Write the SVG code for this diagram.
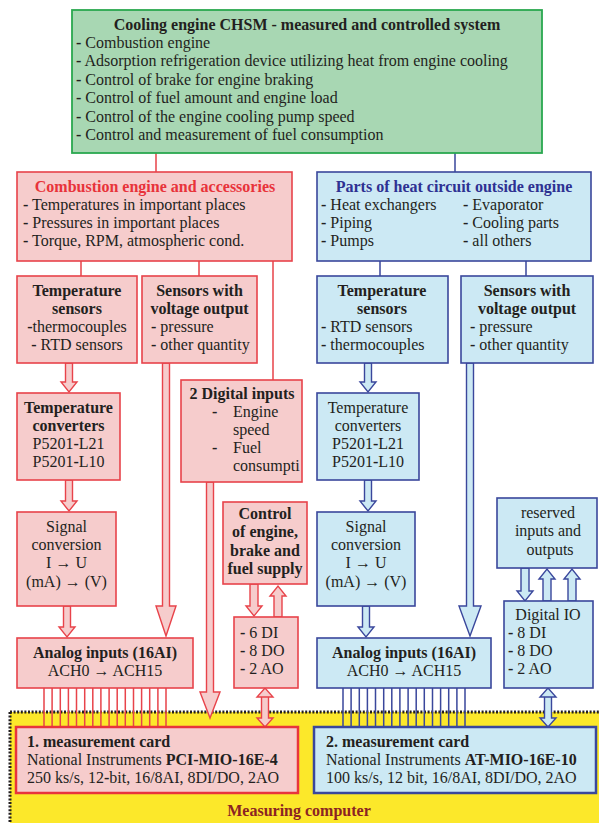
<svg xmlns="http://www.w3.org/2000/svg" width="599" height="823" viewBox="0 0 599 823">
<style>
text{font-family:"Liberation Serif","Times New Roman",serif;font-size:16px;fill:#231f20}
.b{font-weight:bold}
.m{text-anchor:middle}
.pk{fill:#f6cccc;stroke:#e8434a;stroke-width:1.6}
.bl{fill:#cce9f4;stroke:#3a479c;stroke-width:1.6}
.gr{fill:#a8d7b3;stroke:#2aa84f;stroke-width:1.8}
.rl{stroke:#e8434a;stroke-width:1.5;fill:none}
.bll{stroke:#3a479c;stroke-width:1.5;fill:none}
.ra{fill:#f6cccc;stroke:#e8434a;stroke-width:1.4}
.ba{fill:#cce9f4;stroke:#3a479c;stroke-width:1.4}
</style>
<rect x="0" y="0" width="599" height="823" fill="#ffffff"/>
<g id="computer">
<rect x="10" y="712" width="589" height="111" fill="#fce82a"/>
<path d="M10,712 H599 M10,712 V823" stroke="#231f20" stroke-width="3" stroke-dasharray="2 1.6" fill="none"/>
<text x="299" y="816" class="b m" style="fill:#8b2323">Measuring computer</text>
</g>
<g id="connectors">
<path class="rl" d="M156,153 V172 M81,261 V276 M199,261 V276 M273,261 V380"/>
<path class="bll" d="M455,153 V172 M380,261 V276 M526,261 V276"/>
<path class="rl" d="M44,688V727M52.1,688V727M60.3,688V727M68.4,688V727M76.5,688V727M84.7,688V727M92.8,688V727M100.9,688V727M109.1,688V727M117.2,688V727M125.3,688V727M133.5,688V727M141.6,688V727M149.7,688V727M157.9,688V727M166,688V727"/>
<path class="bll" d="M343,688V727M351.1,688V727M359.3,688V727M367.4,688V727M375.5,688V727M383.7,688V727M391.8,688V727M399.9,688V727M408.1,688V727M416.2,688V727M424.3,688V727M432.5,688V727M440.6,688V727M448.7,688V727M456.9,688V727M465,688V727"/>
<path class="ra" d="M65.5,363H72.5V382H77L69,392L61,382H65.5Z"/>
<path class="ra" d="M65.5,480H72.5V501H77L69,511L61,501H65.5Z"/>
<path class="ra" d="M63.5,606H70.5V627H75L67,637L59,627H63.5Z"/>
<path class="ra" d="M162.5,363H169.5V606H176L166,636L156,606H162.5Z"/>
<path class="ra" d="M206.5,482H213.5V692H220L210,718L200,692H206.5Z"/>
<path class="ra" d="M250,584H258V606H262L254,616L246,606H250Z"/>
<path class="ra" d="M274,617H282V596H286L278,586L270,596H274Z"/>
<path class="ra" d="M261.5,697H268.5V718H273L265,727L257,718H261.5V697H257L265,688L273,697Z"/>
<path class="ba" d="M364.5,363H371.5V382H376L368,392L360,382H364.5Z"/>
<path class="ba" d="M364.5,480H371.5V501H376L368,511L360,501H364.5Z"/>
<path class="ba" d="M362.5,606H369.5V627H374L366,637L358,627H362.5Z"/>
<path class="ba" d="M466.5,363H473.5V606H481L470,636L459,606H466.5Z"/>
<path class="ba" d="M521,568H529V591H533L525,601L517,591H521Z"/>
<path class="ba" d="M543,601H551V579H555L547,569L539,579H543Z"/>
<path class="ba" d="M568,601H576V579H580L572,569L564,579H568Z"/>
<path class="ba" d="M544.5,697H551.5V718H556L548,727L540,718H544.5V697H540L548,688L556,697Z"/>
</g>
<g id="top">
<rect class="gr" x="72" y="10" width="470" height="143"/>
<text x="307" y="30" class="b m">Cooling engine CHSM - measured and controlled system</text>
<text x="76" y="48"><tspan class="b">-</tspan> Combustion engine</text>
<text x="76" y="66.4"><tspan class="b">-</tspan> Adsorption refrigeration device utilizing heat from engine cooling</text>
<text x="76" y="84.8"><tspan class="b">-</tspan> Control of brake for engine braking</text>
<text x="76" y="103.2"><tspan class="b">-</tspan> Control of fuel amount and engine load</text>
<text x="76" y="121.6"><tspan class="b">-</tspan> Control of the engine cooling pump speed</text>
<text x="76" y="140"><tspan class="b">-</tspan> Control and measurement of fuel consumption</text>
</g>
<g id="engine">
<rect class="pk" x="17" y="172" width="275" height="89"/>
<text x="155" y="192" class="b m" style="fill:#e8333a">Combustion engine and accessories</text>
<text x="23" y="210"><tspan class="b">-</tspan> Temperatures in important places</text>
<text x="23" y="228"><tspan class="b">-</tspan> Pressures in important places</text>
<text x="23" y="246"><tspan class="b">-</tspan> Torque, RPM, atmospheric cond.</text>
</g>
<g id="heatcircuit">
<rect class="bl" x="317" y="172" width="274" height="89"/>
<text x="454" y="192" class="b m" style="fill:#2e3192">Parts of heat circuit outside engine</text>
<text x="321" y="210"><tspan class="b">-</tspan> Heat exchangers</text>
<text x="321" y="228"><tspan class="b">-</tspan> Piping</text>
<text x="321" y="246"><tspan class="b">-</tspan> Pumps</text>
<text x="463" y="210"><tspan class="b">-</tspan> Evaporator</text>
<text x="463" y="228"><tspan class="b">-</tspan> Cooling parts</text>
<text x="463" y="246"><tspan class="b">-</tspan> all others</text>
</g>
<g id="tempsensL">
<rect class="pk" x="17" y="276" width="120" height="87"/>
<text x="77" y="296" class="b m">Temperature</text>
<text x="77" y="314" class="b m">sensors</text>
<text x="77" y="332" class="m"><tspan class="b">-</tspan>thermocouples</text>
<text x="77" y="350" class="m"><tspan class="b">-</tspan> RTD sensors</text>
</g>
<g id="voltsensL">
<rect class="pk" x="142" y="276" width="115" height="87"/>
<text x="199.5" y="296" class="b m">Sensors with</text>
<text x="199.5" y="314" class="b m">voltage output</text>
<text x="151" y="332"><tspan class="b">-</tspan> pressure</text>
<text x="151" y="350"><tspan class="b">-</tspan> other quantity</text>
</g>
<g id="tempsensR">
<rect class="bl" x="317" y="276" width="131" height="87"/>
<text x="382" y="296" class="b m">Temperature</text>
<text x="382" y="314" class="b m">sensors</text>
<text x="321" y="332"><tspan class="b">-</tspan> RTD sensors</text>
<text x="321" y="350"><tspan class="b">-</tspan> thermocouples</text>
</g>
<g id="voltsensR">
<rect class="bl" x="461" y="276" width="132" height="87"/>
<text x="527" y="296" class="b m">Sensors with</text>
<text x="527" y="314" class="b m">voltage output</text>
<text x="470" y="332"><tspan class="b">-</tspan> pressure</text>
<text x="470" y="350"><tspan class="b">-</tspan> other quantity</text>
</g>
<g id="convL">
<rect class="pk" x="17" y="393" width="103" height="87"/>
<text x="68.5" y="413" class="b m">Temperature</text>
<text x="68.5" y="431" class="b m">converters</text>
<text x="68.5" y="449" class="m">P5201<tspan class="b">-</tspan>L21</text>
<text x="68.5" y="467" class="m">P5201<tspan class="b">-</tspan>L10</text>
</g>
<g id="digin">
<rect class="pk" x="181" y="380" width="121" height="102"/>
<text x="242" y="399" class="b m">2 Digital inputs</text>
<text x="212" y="417" class="b">-</text>
<text x="233" y="417">Engine</text>
<text x="233" y="435">speed</text>
<text x="212" y="453" class="b">-</text>
<text x="233" y="453">Fuel</text>
<text x="233" y="471">consumpti</text>
</g>
<g id="convR">
<rect class="bl" x="317" y="393" width="102" height="87"/>
<text x="368" y="413" class="m">Temperature</text>
<text x="368" y="431" class="m">converters</text>
<text x="368" y="449" class="m">P5201<tspan class="b">-</tspan>L21</text>
<text x="368" y="467" class="m">P5201<tspan class="b">-</tspan>L10</text>
</g>
<g id="sigL">
<rect class="pk" x="17" y="512" width="99" height="94"/>
<text x="66.5" y="532" class="m">Signal</text>
<text x="66.5" y="550" class="m">conversion</text>
<text x="66.5" y="568" class="m">I → U</text>
<text x="66.5" y="587" class="m">(mA) → (V)</text>
</g>
<g id="control">
<rect class="pk" x="223" y="502" width="84" height="82"/>
<text x="265" y="519" class="b m">Control</text>
<text x="265" y="537" class="b m">of engine,</text>
<text x="265" y="556" class="b m">brake and</text>
<text x="265" y="574" class="b m">fuel supply</text>
</g>
<g id="sigR">
<rect class="bl" x="317" y="512" width="98" height="94"/>
<text x="366" y="532" class="m">Signal</text>
<text x="366" y="550" class="m">conversion</text>
<text x="366" y="568" class="m">I → U</text>
<text x="366" y="587" class="m">(mA) → (V)</text>
</g>
<g id="reserved">
<rect class="bl" x="497" y="498" width="100" height="70"/>
<text x="548" y="518" class="m">reserved</text>
<text x="548" y="536" class="m">inputs and</text>
<text x="550" y="555" class="m">outputs</text>
</g>
<g id="dioL">
<rect class="pk" x="234" y="617" width="64" height="71"/>
<text x="240" y="638"><tspan class="b">-</tspan> 6 DI</text>
<text x="240" y="656"><tspan class="b">-</tspan> 8 DO</text>
<text x="240" y="674"><tspan class="b">-</tspan> 2 AO</text>
</g>
<g id="dioR">
<rect class="bl" x="504" y="601" width="89" height="87"/>
<text x="548" y="620" class="m">Digital IO</text>
<text x="508" y="638"><tspan class="b">-</tspan> 8 DI</text>
<text x="508" y="656"><tspan class="b">-</tspan> 8 DO</text>
<text x="508" y="674"><tspan class="b">-</tspan> 2 AO</text>
</g>
<g id="analogL">
<rect class="pk" x="17" y="638" width="176" height="50"/>
<text x="105" y="658" class="b m">Analog inputs (16AI)</text>
<text x="105" y="676" class="m">ACH0 → ACH15</text>
</g>
<g id="analogR">
<rect class="bl" x="317" y="638" width="174" height="50"/>
<text x="404" y="658" class="b m">Analog inputs (16AI)</text>
<text x="404" y="676" class="m">ACH0 → ACH15</text>
</g>
<g id="card1">
<rect x="16" y="727" width="282" height="66" fill="#f6cccc" stroke="#e8343c" stroke-width="2.5"/>
<text x="27" y="747" class="b">1. measurement card</text>
<text x="27" y="765">National Instruments <tspan class="b">PCI-MIO-16E-4</tspan></text>
<text x="27" y="783">250 ks/s, 12<tspan class="b">-</tspan>bit, 16/8AI, 8DI/DO, 2AO</text>
</g>
<g id="card2">
<rect x="314" y="727" width="282" height="66" fill="#cce9f4" stroke="#3a479c" stroke-width="2.5"/>
<text x="326" y="747" class="b">2. measurement card</text>
<text x="326" y="765">National Instruments  <tspan class="b">AT-MIO-16E-10</tspan></text>
<text x="326" y="783">100 ks/s, 12 bit, 16/8AI, 8DI/DO, 2AO</text>
</g>
</svg>
